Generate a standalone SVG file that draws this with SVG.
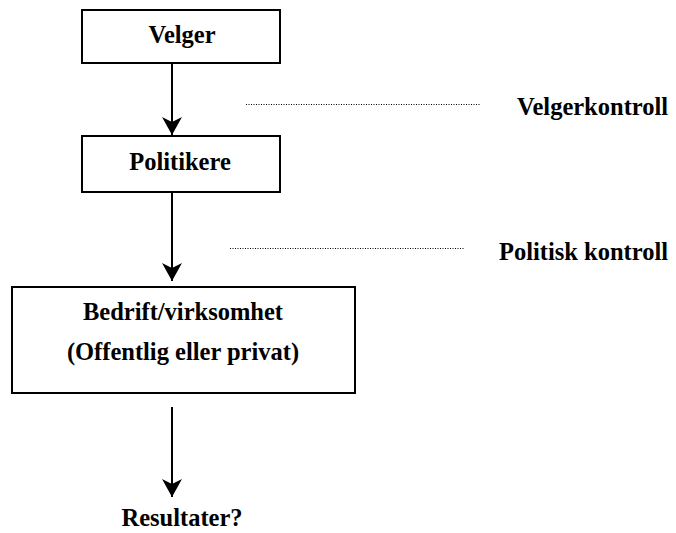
<svg xmlns="http://www.w3.org/2000/svg" width="676" height="533" viewBox="0 0 676 533">
<style>
.box{fill:#fff;stroke:#000;stroke-width:2}
.t{font-family:"Liberation Serif","Times New Roman",serif;font-weight:bold;font-size:24.5px;fill:#000}
.c{text-anchor:middle}
.ln{stroke:#000;stroke-width:2;fill:none}
.dot{stroke:#000;stroke-width:1;stroke-dasharray:1 1.5;fill:none}
</style>
<defs>
<marker id="ah" markerUnits="userSpaceOnUse" markerWidth="22" markerHeight="20" refX="18" refY="10" orient="auto">
<path d="M0,0 L18,10 L0,20 L5,10 Z" fill="#000"/>
</marker>
</defs>
<g id="connectors">
<line class="ln" x1="172" y1="63" x2="172" y2="135" marker-end="url(#ah)"/>
<line class="ln" x1="172" y1="192" x2="172" y2="281" marker-end="url(#ah)"/>
<line class="ln" x1="172" y1="407" x2="172" y2="497" marker-end="url(#ah)"/>
<line class="dot" x1="246" y1="104.5" x2="480" y2="104.5"/>
<line class="dot" x1="230" y1="248.5" x2="465" y2="248.5"/>
</g>
<g id="velger">
<rect class="box" x="82" y="10" width="198" height="53"/>
<text class="t c" x="182" y="43">Velger</text>
</g>
<g id="politikere">
<rect class="box" x="82" y="136" width="198" height="56"/>
<text class="t c" x="180" y="170">Politikere</text>
</g>
<g id="bedrift">
<rect class="box" x="12" y="287" width="343" height="106"/>
<text class="t c" x="183" y="320">Bedrift/virksomhet</text>
<text class="t c" x="183" y="360">(Offentlig eller privat)</text>
</g>
<g id="resultater">
<text class="t c" x="182" y="526">Resultater?</text>
</g>
<g id="velgerkontroll">
<text class="t" x="517" y="115">Velgerkontroll</text>
</g>
<g id="politiskkontroll">
<text class="t" x="499" y="260">Politisk kontroll</text>
</g>
</svg>
